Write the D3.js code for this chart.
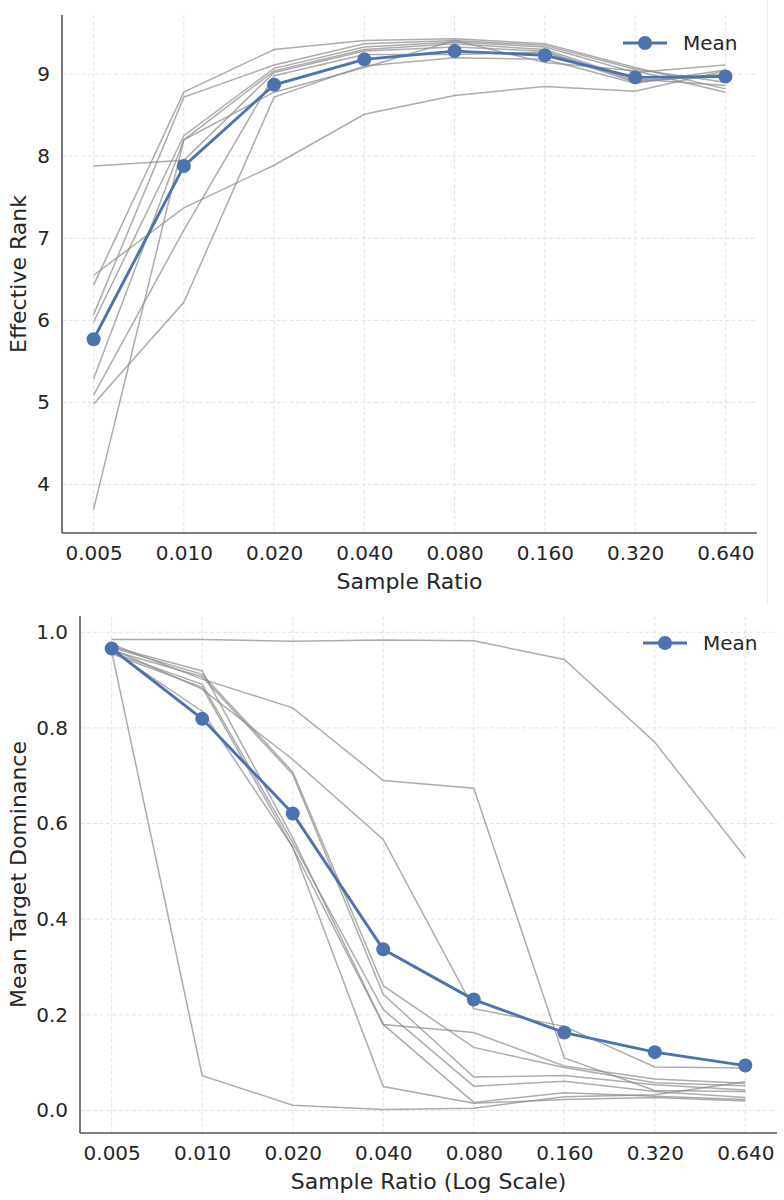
<!DOCTYPE html>
<html>
<head>
<meta charset="utf-8">
<script src="https://cdn.jsdelivr.net/npm/d3@7"></script>
<style>
  body { margin: 0; background: #fff; }
  text { font-family: "DejaVu Sans", sans-serif; fill: #262626; }
</style>
</head>
<body>
<div id="chart"></div>
<script>
// sample ratios shared by both panels
var sampleRatios = [0.005, 0.010, 0.020, 0.040, 0.080, 0.160, 0.320, 0.640];

// effective rank, one row per run
var rankRuns = [
  [6.55, 7.37, 7.89, 8.51, 8.74, 8.85, 8.79, 9.04],
  [6.43, 8.78, 9.30, 9.41, 9.43, 9.37, 9.08, 8.82],
  [6.07, 8.72, 9.11, 9.37, 9.41, 9.35, 9.06, 8.90],
  [5.98, 8.25, 9.07, 9.33, 9.39, 9.33, 9.02, 9.11],
  [5.29, 8.20, 9.04, 9.30, 9.37, 9.30, 8.94, 8.86],
  [7.88, 7.95, 9.02, 9.28, 9.33, 9.28, 8.92, 8.98],
  [5.09, 7.10, 8.98, 9.24, 9.24, 9.27, 8.90, 9.00],
  [4.98, 6.22, 8.72, 9.10, 9.20, 9.18, 8.89, 9.05],
  [3.70, 8.20, 8.78, 9.08, 9.41, 9.14, 9.04, 8.78]
];
var rankMean = [5.77, 7.88, 8.87, 9.18, 9.28, 9.23, 8.96, 8.97];
var rankTicks = [4, 5, 6, 7, 8, 9];

// mean target dominance, one row per run
var dominanceRuns = [
  [0.985, 0.985, 0.981, 0.984, 0.982, 0.943, 0.770, 0.529],
  [0.960, 0.073, 0.011, 0.002, 0.005, 0.029, 0.033, 0.060],
  [0.975, 0.902, 0.842, 0.690, 0.674, 0.110, 0.042, 0.040],
  [0.965, 0.881, 0.734, 0.567, 0.213, 0.176, 0.091, 0.089],
  [0.970, 0.919, 0.570, 0.180, 0.163, 0.093, 0.066, 0.057],
  [0.968, 0.912, 0.708, 0.261, 0.132, 0.090, 0.058, 0.052],
  [0.962, 0.907, 0.703, 0.243, 0.070, 0.073, 0.054, 0.043],
  [0.958, 0.891, 0.560, 0.211, 0.051, 0.061, 0.040, 0.027],
  [0.955, 0.885, 0.550, 0.180, 0.017, 0.037, 0.030, 0.023],
  [0.962, 0.835, 0.551, 0.050, 0.015, 0.023, 0.027, 0.020]
];
var dominanceMean = [0.966, 0.819, 0.621, 0.337, 0.232, 0.163, 0.122, 0.094];
var dominanceTicks = [0.0, 0.2, 0.4, 0.6, 0.8, 1.0];

var meanColor = "#4c72b0";

var svg = d3.select("#chart")
  .append("svg")
  .attr("width", 784)
  .attr("height", 1200);

// faint edge of the upper figure
svg.append("line")
  .attr("x1", 767.5).attr("x2", 767.5)
  .attr("y1", 0).attr("y2", 605)
  .attr("stroke", "#ececec").attr("stroke-width", 1);

function drawPanel(p) {
  var x = d3.scaleLog()
    .domain([sampleRatios[0] / Math.pow(2, 0.35), sampleRatios[sampleRatios.length - 1] * Math.pow(2, 0.35)])
    .range([p.left, p.right]);
  var y = d3.scaleLinear().domain(p.yDomain).range([p.bottom, p.top]);

  var g = svg.append("g");

  // dashed grid
  g.selectAll(".hgrid")
    .data(p.yTicks)
    .enter().append("line")
    .attr("x1", p.left).attr("x2", p.right)
    .attr("y1", d => y(d)).attr("y2", d => y(d))
    .attr("stroke", "#e2e2e2").attr("stroke-width", 1)
    .attr("stroke-dasharray", "4,2.5");
  g.selectAll(".vgrid")
    .data(sampleRatios)
    .enter().append("line")
    .attr("x1", d => x(d)).attr("x2", d => x(d))
    .attr("y1", p.top).attr("y2", p.bottom)
    .attr("stroke", "#e2e2e2").attr("stroke-width", 1)
    .attr("stroke-dasharray", "4,2.5");

  var line = d3.line()
    .x((d, i) => x(sampleRatios[i]))
    .y(d => y(d));

  // individual runs
  g.selectAll(".run")
    .data(p.runs)
    .enter().append("path")
    .attr("d", line)
    .attr("fill", "none")
    .attr("stroke", "#8c8c8c")
    .attr("stroke-opacity", 0.72)
    .attr("stroke-width", 1.5);

  // mean line with markers
  g.append("path")
    .attr("d", line(p.mean))
    .attr("fill", "none")
    .attr("stroke", meanColor)
    .attr("stroke-width", 2.9);
  g.selectAll(".dot")
    .data(p.mean)
    .enter().append("circle")
    .attr("cx", (d, i) => x(sampleRatios[i]))
    .attr("cy", d => y(d))
    .attr("r", 7)
    .attr("fill", meanColor);

  // axes, no tick marks
  var xAxis = d3.axisBottom(x).tickValues(sampleRatios).tickFormat(d3.format(".3f")).tickSize(0).tickPadding(13);
  var yAxis = d3.axisLeft(y).tickValues(p.yTicks).tickFormat(p.yFormat).tickSize(0).tickPadding(12);

  var gx = g.append("g")
    .attr("transform", `translate(0,${p.bottom})`)
    .call(xAxis);
  var gy = g.append("g")
    .attr("transform", `translate(${p.left},0)`)
    .call(yAxis);

  [gx, gy].forEach(a => {
    a.select(".domain").remove();
    a.selectAll("text")
      .style("font-size", "20px")
      .style("font-family", "DejaVu Sans, sans-serif")
      .attr("fill", "#262626");
  });

  // only left and bottom spines
  g.append("line")
    .attr("x1", p.left).attr("x2", p.left)
    .attr("y1", p.top).attr("y2", p.bottom)
    .attr("stroke", "#555").attr("stroke-width", 1.6);
  g.append("line")
    .attr("x1", p.left).attr("x2", p.right)
    .attr("y1", p.bottom).attr("y2", p.bottom)
    .attr("stroke", "#555").attr("stroke-width", 1.6);

  g.append("text")
    .attr("x", (p.left + p.right) / 2)
    .attr("y", p.bottom + 56)
    .attr("text-anchor", "middle")
    .style("font-size", "22px")
    .text(p.xLabel);

  g.append("text")
    .attr("transform", `translate(26,${(p.top + p.bottom) / 2}) rotate(-90)`)
    .attr("text-anchor", "middle")
    .style("font-size", "22px")
    .text(p.yLabel);

  // legend
  var lg = g.append("g").attr("transform", `translate(${p.legendX},${p.legendY})`);
  lg.append("line")
    .attr("x1", 0).attr("x2", 44)
    .attr("y1", 0).attr("y2", 0)
    .attr("stroke", meanColor).attr("stroke-width", 2.9);
  lg.append("circle").attr("cx", 22).attr("cy", 0).attr("r", 7).attr("fill", meanColor);
  lg.append("text")
    .attr("x", 60).attr("y", 0)
    .attr("dominant-baseline", "central")
    .style("font-size", "20px")
    .text("Mean");
}

drawPanel({
  left: 62, right: 757, top: 15, bottom: 533,
  yDomain: [3.41, 9.72],
  yTicks: rankTicks,
  yFormat: d3.format("d"),
  runs: rankRuns,
  mean: rankMean,
  xLabel: "Sample Ratio",
  yLabel: "Effective Rank",
  legendX: 623, legendY: 43
});

drawPanel({
  left: 80, right: 777, top: 616, bottom: 1133,
  yDomain: [-0.047, 1.034],
  yTicks: dominanceTicks,
  yFormat: d3.format(".1f"),
  runs: dominanceRuns,
  mean: dominanceMean,
  xLabel: "Sample Ratio (Log Scale)",
  yLabel: "Mean Target Dominance",
  legendX: 643, legendY: 643
});
</script>
</body>
</html>
